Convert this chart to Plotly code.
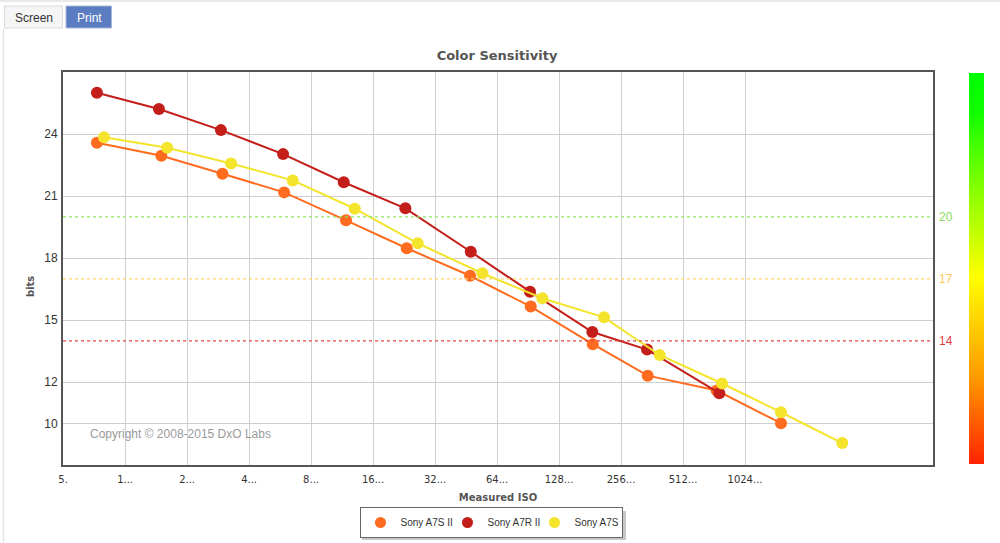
import plotly.graph_objects as go

# ---------------- data ----------------
series_names = ["Sony A7S II", "Sony A7R II", "Sony A7S"]
series_colors = ["#FF6B1F", "#C41E1A", "#F4E42C"]

a7s2_iso = [73, 150, 297, 592, 1183, 2332, 4734, 9330, 18660, 34500, 74650, 153100]
a7s2_bits = [23.58, 22.95, 22.08, 21.18, 19.83, 18.48, 17.15, 15.66, 13.84, 12.32, 11.60, 10.02]

a7r2_iso = [73, 146, 292, 585, 1153, 2296, 4770, 9255, 18570, 34240, 76800]
a7r2_bits = [26.0, 25.21, 24.19, 23.03, 21.67, 20.41, 18.31, 16.38, 14.43, 13.58, 11.47]

a7s_iso = [79, 160, 327, 652, 1304, 2637, 5430, 10620, 21170, 39450, 79200, 153100, 303800]
a7s_bits = [23.84, 23.34, 22.58, 21.76, 20.39, 18.72, 17.27, 16.06, 15.14, 13.32, 11.94, 10.55, 9.06]

x_tick_vals = [50, 100, 200, 400, 800, 1600, 3200, 6400, 12800, 25600, 51200, 102400]
x_tick_text = ["5.", "1...", "2...", "4...", "8...", "16...", "32...", "64...",
               "128...", "256...", "512...", "1024..."]
y_tick_vals = [10, 12, 15, 18, 21, 24]

ref_levels = [20, 17, 14]
ref_colors = ["#8FE866", "#FFD36A", "#E04848"]
ref_label_colors = ["#86DD5A", "#FFC857", "#E04040"]

gradient_stops = [0, 22, 48, 70, 90, 100]
gradient_scale = [[0.0, "#FF2200"], [0.22, "#FF9900"], [0.48, "#FFFF00"],
                  [0.70, "#88FF00"], [0.90, "#11FF00"], [1.0, "#00FF00"]]

# ---------------- layout helpers (pixel -> paper) ----------------
W, H = 1000, 543
ML, MR, MT, MB = 63, 14, 72, 78
PW = W - ML - MR
PH = H - MT - MB


def px(x):
    return (x - ML) / PW


def py(y):
    return (H - MB - y) / PH


fig = go.Figure()

xs = [a7s2_iso, a7r2_iso, a7s_iso]
ys = [a7s2_bits, a7r2_bits, a7s_bits]
for name, col, x, y in zip(series_names, series_colors, xs, ys):
    fig.add_trace(go.Scatter(
        x=x, y=y, mode="lines+markers", name=name, showlegend=False,
        line=dict(color=col, width=2), marker=dict(color=col, size=12),
        hoverinfo="x+y+name"))
# legend entries (markers only)
for name, col in zip(series_names, series_colors):
    fig.add_trace(go.Scatter(
        x=[None], y=[None], mode="markers", name=name,
        marker=dict(color=col, size=11)))

# color bar on right
fig.add_trace(go.Heatmap(
    z=[[v] for v in gradient_stops], x=[0], y=gradient_stops,
    colorscale=gradient_scale, zmin=0, zmax=100, showscale=False,
    zsmooth="best", xaxis="x2", yaxis="y2", hoverinfo="skip"))

x_domain_end = (933 - ML) / PW
fig.update_layout(
    width=W, height=H,
    margin=dict(l=ML, r=MR, t=MT, b=MB, autoexpand=False),
    paper_bgcolor="white", plot_bgcolor="white",
    font=dict(family="Liberation Sans, Arial, sans-serif", size=12, color="#333"),
    title=dict(text="<b>Color Sensitivity</b>", x=px(497),
               xref="paper", y=1 - 55 / H, yref="container",
               xanchor="center", yanchor="middle",
               font=dict(family="DejaVu Sans, Verdana, sans-serif", size=13, color="#555")),
    xaxis=dict(
        type="log", domain=[0, x_domain_end],
        range=[1.69847, 5.9231], automargin=False,
        tickvals=x_tick_vals, ticktext=x_tick_text,
        tickfont=dict(family="DejaVu Sans, Verdana, sans-serif", size=10, color="#333"),
        showgrid=True, gridcolor="#cfcfcf", gridwidth=1,
        showline=True, linecolor="#555", linewidth=2, mirror=True,
        ticks="", ticklabelstandoff=4, zeroline=False,
        title=dict(text="<b>Measured ISO</b>", standoff=10,
                   font=dict(family="DejaVu Sans, Verdana, sans-serif", size=10, color="#555")),
    ),
    yaxis=dict(
        range=[8, 27], tickvals=y_tick_vals, automargin=False,
        tickfont=dict(size=12, color="#333"),
        showgrid=True, gridcolor="#cfcfcf", gridwidth=1,
        showline=True, linecolor="#555", linewidth=2, mirror=True,
        ticks="", ticklabelstandoff=1, zeroline=False,
    ),
    xaxis2=dict(domain=[px(969), px(984)], visible=False, fixedrange=True),
    yaxis2=dict(domain=[py(464), py(73)], visible=False, fixedrange=True,
                range=[0, 100], anchor="x2"),
    legend=dict(orientation="h", x=px(491), xanchor="center",
                y=1 - 507 / H, yref="container", yanchor="top",
                bgcolor="white", bordercolor="#666", borderwidth=1,
                font=dict(size=10, color="#333"), itemwidth=30,
                entrywidth=42, entrywidthmode="pixels",
                tracegroupgap=0),
    showlegend=True,
)

shapes = []
annotations = []
for lvl, lc, tc in zip(ref_levels, ref_colors, ref_label_colors):
    shapes.append(dict(type="line", xref="x domain", yref="y", x0=0, x1=1,
                       y0=lvl, y1=lvl, line=dict(color=lc, width=1.3, dash="dot")))
    annotations.append(dict(xref="x domain", yref="y", x=1, y=lvl, xshift=4,
                            xanchor="left", yanchor="middle", showarrow=False,
                            text=str(lvl), font=dict(size=12, color=tc)))

annotations.append(dict(xref="paper", yref="paper", x=px(88), y=py(434),
                        xanchor="left", yanchor="middle", showarrow=False,
                        text="Copyright © 2008-2015 DxO Labs",
                        font=dict(size=12, color="#9a9a9a")))
# y axis title
annotations.append(dict(xref="paper", yref="paper", x=px(30), y=py(287),
                        xanchor="center", yanchor="middle", showarrow=False,
                        textangle=-90, text="<b>bits</b>",
                        font=dict(family="DejaVu Sans, Verdana, sans-serif", size=10, color="#555")))

# legend drop shadow
shapes.append(dict(type="rect", xref="paper", yref="paper", x0=px(362), x1=px(626),
                   y0=py(540), y1=py(511), fillcolor="rgba(0,0,0,0.22)",
                   line=dict(width=0), layer="above"))

# page frame lines
shapes.append(dict(type="line", xref="paper", yref="paper", x0=px(0), x1=px(1000),
                   y0=py(1), y1=py(1), line=dict(color="#e2e2e2", width=1.5)))
shapes.append(dict(type="line", xref="paper", yref="paper", x0=px(3.5), x1=px(3.5),
                   y0=py(29), y1=py(543), line=dict(color="#e6e6e6", width=1.5)))
# buttons
shapes.append(dict(type="rect", xref="paper", yref="paper", x0=px(4.5), x1=px(62.5),
                   y0=py(28), y1=py(6), fillcolor="#f5f5f5",
                   line=dict(color="#dcdcdc", width=1)))
shapes.append(dict(type="rect", xref="paper", yref="paper", x0=px(66), x1=px(111.5),
                   y0=py(28), y1=py(6), fillcolor="#5B7CC0",
                   line=dict(color="#a9b8d8", width=1)))
annotations.append(dict(xref="paper", yref="paper", x=px(34), y=py(17.5),
                        xanchor="center", yanchor="middle", showarrow=False,
                        text="Screen", font=dict(size=12, color="#333")))
annotations.append(dict(xref="paper", yref="paper", x=px(89), y=py(17.5),
                        xanchor="center", yanchor="middle", showarrow=False,
                        text="Print", font=dict(size=12, color="white")))

fig.update_layout(shapes=shapes, annotations=annotations)
fig.write_html("out.html", config={"displayModeBar": False},
               post_script="document.body.style.margin='0px';")
